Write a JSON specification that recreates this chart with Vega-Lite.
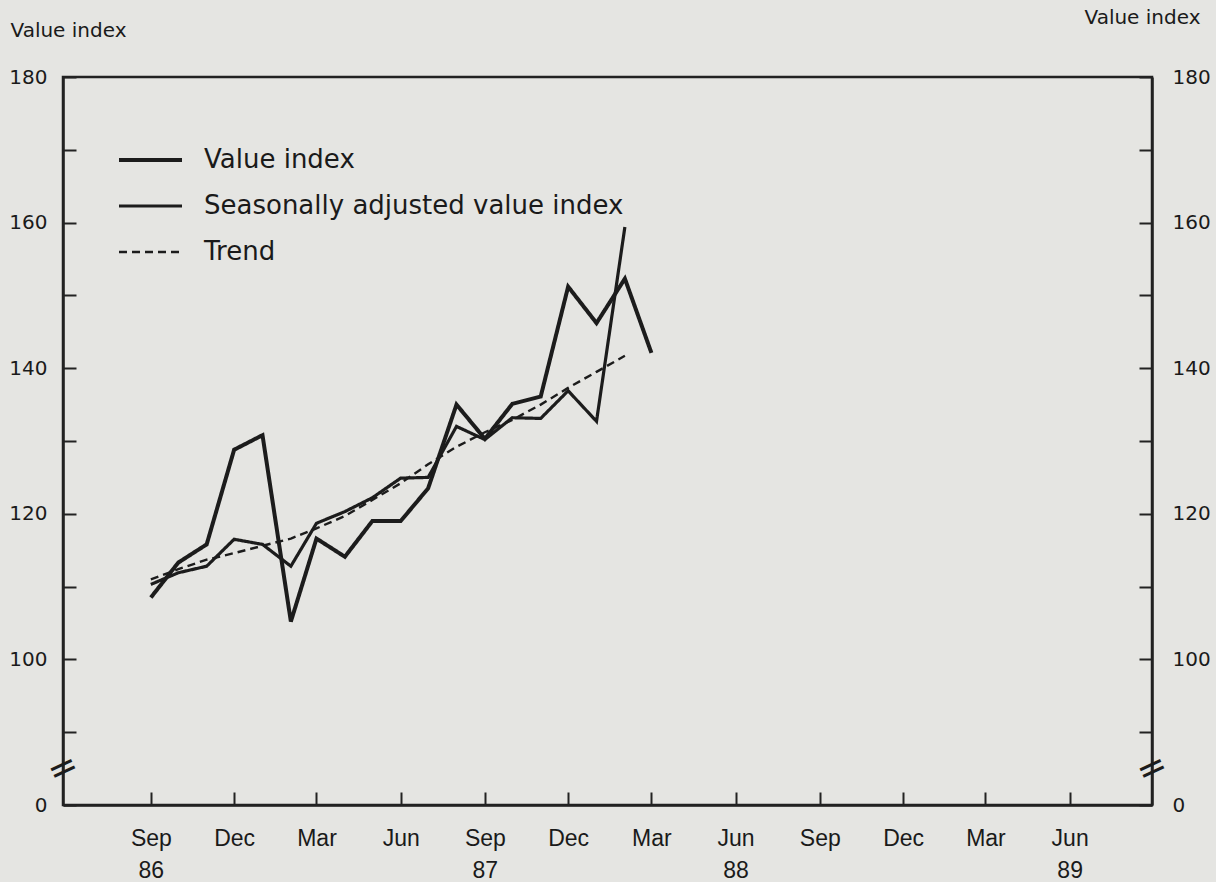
{
  "$schema": "https://vega.github.io/schema/vega-lite/v6.json",
  "width": 1089,
  "height": 728,
  "autosize": {"type": "none"},
  "padding": {"left": 63, "top": 77, "right": 64, "bottom": 77},
  "background": "#e5e5e2",
  "config": {
    "view": {"stroke": "#222222", "strokeWidth": 2.5},
    "font": "DejaVu Sans",
    "axis": {"domainColor": "#222222", "domainWidth": 2.5, "tickColor": "#222222", "tickWidth": 2, "labelColor": "#1a1a1a", "titleColor": "#1a1a1a", "grid": false}
  },
  "datasets": {
    "series": [
      {"date": "1986-09-01", "series": "Value index", "value": 108.5},
      {"date": "1986-10-01", "series": "Value index", "value": 113.3},
      {"date": "1986-11-01", "series": "Value index", "value": 115.8},
      {"date": "1986-12-01", "series": "Value index", "value": 128.8},
      {"date": "1987-01-01", "series": "Value index", "value": 130.8},
      {"date": "1987-02-01", "series": "Value index", "value": 105.2},
      {"date": "1987-03-01", "series": "Value index", "value": 116.6},
      {"date": "1987-04-01", "series": "Value index", "value": 114.1},
      {"date": "1987-05-01", "series": "Value index", "value": 119.0},
      {"date": "1987-06-01", "series": "Value index", "value": 119.0},
      {"date": "1987-07-01", "series": "Value index", "value": 123.5},
      {"date": "1987-08-01", "series": "Value index", "value": 135.0},
      {"date": "1987-09-01", "series": "Value index", "value": 130.3},
      {"date": "1987-10-01", "series": "Value index", "value": 135.1},
      {"date": "1987-11-01", "series": "Value index", "value": 136.1},
      {"date": "1987-12-01", "series": "Value index", "value": 151.2},
      {"date": "1988-01-01", "series": "Value index", "value": 146.2},
      {"date": "1988-02-01", "series": "Value index", "value": 152.3},
      {"date": "1988-03-01", "series": "Value index", "value": 142.1},
      {"date": "1986-09-01", "series": "Seasonally adjusted value index", "value": 110.3},
      {"date": "1986-10-01", "series": "Seasonally adjusted value index", "value": 111.9},
      {"date": "1986-11-01", "series": "Seasonally adjusted value index", "value": 112.8},
      {"date": "1986-12-01", "series": "Seasonally adjusted value index", "value": 116.5},
      {"date": "1987-01-01", "series": "Seasonally adjusted value index", "value": 115.8},
      {"date": "1987-02-01", "series": "Seasonally adjusted value index", "value": 112.8},
      {"date": "1987-03-01", "series": "Seasonally adjusted value index", "value": 118.7},
      {"date": "1987-04-01", "series": "Seasonally adjusted value index", "value": 120.3},
      {"date": "1987-05-01", "series": "Seasonally adjusted value index", "value": 122.2},
      {"date": "1987-06-01", "series": "Seasonally adjusted value index", "value": 124.9},
      {"date": "1987-07-01", "series": "Seasonally adjusted value index", "value": 125.0},
      {"date": "1987-08-01", "series": "Seasonally adjusted value index", "value": 132.0},
      {"date": "1987-09-01", "series": "Seasonally adjusted value index", "value": 130.2},
      {"date": "1987-10-01", "series": "Seasonally adjusted value index", "value": 133.2},
      {"date": "1987-11-01", "series": "Seasonally adjusted value index", "value": 133.1},
      {"date": "1987-12-01", "series": "Seasonally adjusted value index", "value": 136.9},
      {"date": "1988-01-01", "series": "Seasonally adjusted value index", "value": 132.7},
      {"date": "1988-02-01", "series": "Seasonally adjusted value index", "value": 159.4},
      {"date": "1986-09-01", "series": "Trend", "value": 111.0},
      {"date": "1986-10-01", "series": "Trend", "value": 112.4},
      {"date": "1986-11-01", "series": "Trend", "value": 113.7},
      {"date": "1986-12-01", "series": "Trend", "value": 114.6},
      {"date": "1987-01-01", "series": "Trend", "value": 115.6},
      {"date": "1987-02-01", "series": "Trend", "value": 116.6},
      {"date": "1987-03-01", "series": "Trend", "value": 118.0},
      {"date": "1987-04-01", "series": "Trend", "value": 119.7},
      {"date": "1987-05-01", "series": "Trend", "value": 121.9},
      {"date": "1987-06-01", "series": "Trend", "value": 124.2},
      {"date": "1987-07-01", "series": "Trend", "value": 126.8},
      {"date": "1987-08-01", "series": "Trend", "value": 129.2},
      {"date": "1987-09-01", "series": "Trend", "value": 131.2},
      {"date": "1987-10-01", "series": "Trend", "value": 132.9},
      {"date": "1987-11-01", "series": "Trend", "value": 135.0},
      {"date": "1987-12-01", "series": "Trend", "value": 137.3},
      {"date": "1988-01-01", "series": "Trend", "value": 139.5},
      {"date": "1988-02-01", "series": "Trend", "value": 141.7}
    ]
  },
  "resolve": {"axis": {"y": "independent"}},
  "layer": [
    {
      "data": {"name": "series"},
      "mark": {"type": "line", "color": "#1c1c1c"},
      "encoding": {
        "x": {
          "field": "date",
          "type": "temporal",
          "scale": {"type": "utc", "domain": [{"year": 1986, "month": 5, "date": 28, "utc": true}, {"year": 1989, "month": 8, "date": 30, "utc": true}]},
          "axis": {
            "title": null,
            "values": [
              {"year": 1986, "month": 9, "date": 1, "utc": true},
              {"year": 1986, "month": 12, "date": 1, "utc": true},
              {"year": 1987, "month": 3, "date": 1, "utc": true},
              {"year": 1987, "month": 6, "date": 1, "utc": true},
              {"year": 1987, "month": 9, "date": 1, "utc": true},
              {"year": 1987, "month": 12, "date": 1, "utc": true},
              {"year": 1988, "month": 3, "date": 1, "utc": true},
              {"year": 1988, "month": 6, "date": 1, "utc": true},
              {"year": 1988, "month": 9, "date": 1, "utc": true},
              {"year": 1988, "month": 12, "date": 1, "utc": true},
              {"year": 1989, "month": 3, "date": 1, "utc": true},
              {"year": 1989, "month": 6, "date": 1, "utc": true}
            ],
            "tickSize": -13,
            "labelPadding": 35,
            "labelFont": "Liberation Sans",
            "labelFontSize": 23,
            "labelLineHeight": 32,
            "labelBaseline": "top",
            "labelFlush": false,
            "labelOverlap": false,
            "labelExpr": "((utcyear(datum.value)==1986 && utcmonth(datum.value)==8) || (utcyear(datum.value)==1987 && utcmonth(datum.value)==8) || (utcyear(datum.value)==1988 && utcmonth(datum.value)==5) || (utcyear(datum.value)==1989 && utcmonth(datum.value)==5)) ? [utcFormat(datum.value, '%b'), utcFormat(datum.value, '%y')] : utcFormat(datum.value, '%b')"
          }
        },
        "y": {
          "field": "value",
          "type": "quantitative",
          "scale": {"domain": [80, 180], "zero": false, "nice": false},
          "axis": {
            "orient": "left",
            "values": [80, 90, 100, 110, 120, 130, 140, 150, 160, 170, 180],
            "labelExpr": "datum.value == 80 ? '0' : (datum.value % 20 == 0 ? datum.label : '')",
            "tickSize": -13,
            "labelPadding": 29,
            "labelFontSize": 20,
            "title": "Value index",
            "titleAngle": 0,
            "titleAlign": "left",
            "titleBaseline": "middle",
            "titleX": -53,
            "titleY": -47,
            "titleFontSize": 20,
            "titleFontWeight": "normal"
          }
        },
        "strokeWidth": {
          "field": "series",
          "type": "nominal",
          "scale": {"domain": ["Value index", "Seasonally adjusted value index", "Trend"], "range": [4, 2.4, 2.4]},
          "legend": {"title": null, "orient": "none", "legendX": 54, "legendY": 70, "symbolType": "stroke", "symbolSize": 3969, "symbolStrokeColor": "#1c1c1c", "clipHeight": 26, "rowPadding": 20, "labelOffset": 20, "labelFontSize": 26, "labelColor": "#1a1a1a", "labelLimit": 600}
        },
        "strokeDash": {
          "field": "series",
          "type": "nominal",
          "scale": {"domain": ["Value index", "Seasonally adjusted value index", "Trend"], "range": [[1, 0], [1, 0], [8, 5]]},
          "legend": {"title": null, "orient": "none", "legendX": 54, "legendY": 70, "symbolType": "stroke", "symbolSize": 3969, "symbolStrokeColor": "#1c1c1c", "clipHeight": 26, "rowPadding": 20, "labelOffset": 20, "labelFontSize": 26, "labelColor": "#1a1a1a", "labelLimit": 600}
        }
      }
    },
    {
      "data": {"values": [{}]},
      "mark": {"type": "text", "text": "=", "fontSize": 36, "angle": -25, "color": "#1c1c1c"},
      "encoding": {
        "x": {"datum": {"year": 1986, "month": 5, "date": 28, "utc": true}, "type": "temporal"},
        "y": {"datum": 85, "type": "quantitative", "axis": null}
      }
    },
    {
      "data": {"values": [{}]},
      "mark": {"type": "text", "text": "=", "fontSize": 36, "angle": -25, "color": "#1c1c1c"},
      "encoding": {
        "x": {"datum": {"year": 1989, "month": 8, "date": 30, "utc": true}, "type": "temporal"},
        "y": {
          "datum": 85,
          "type": "quantitative",
          "axis": {
            "orient": "right",
            "values": [80, 90, 100, 110, 120, 130, 140, 150, 160, 170, 180],
            "labelExpr": "datum.value == 80 ? '0' : (datum.value % 20 == 0 ? datum.label : '')",
            "tickSize": -13,
            "labelPadding": 33,
            "labelFontSize": 20,
            "title": "Value index",
            "titleAngle": 0,
            "titleAlign": "right",
            "titleBaseline": "middle",
            "titleX": 48,
            "titleY": -60,
            "titleFontSize": 20,
            "titleFontWeight": "normal"
          }
        }
      }
    }
  ]
}
